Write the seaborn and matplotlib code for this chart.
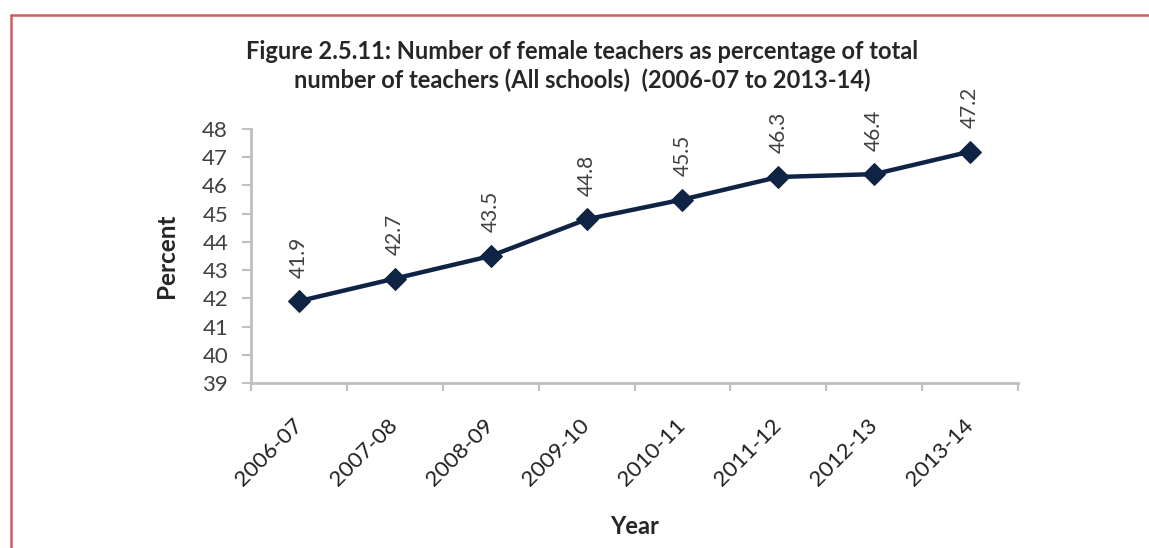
import matplotlib
matplotlib.use("Agg")
import matplotlib.pyplot as plt
from matplotlib.lines import Line2D
from matplotlib.ticker import FixedLocator, NullFormatter
import seaborn as sns
import pandas as pd

years = ["2006-07", "2007-08", "2008-09", "2009-10",
         "2010-11", "2011-12", "2012-13", "2013-14"]
percent = [41.9, 42.7, 43.5, 44.8, 45.5, 46.3, 46.4, 47.2]
y_ticks = list(range(39, 49))

title_lines = ["Figure 2.5.11: Number of female teachers as percentage of total",
               "number of teachers (All schools)  (2006-07 to 2013-14)"]

sns.set_theme(style="white")
plt.rcParams["font.family"] = ["Lato", "DejaVu Sans"]

df = pd.DataFrame({"Year": years, "Percent": percent})

W, H = 1149, 548
fig = plt.figure(figsize=(W / 100, H / 100), dpi=100)
fig.patch.set_facecolor("white")
ax_l, ax_r, ax_t, ax_b = 251, 1018, 129, 383
ax = fig.add_axes([ax_l / W, 1 - ax_b / H, (ax_r - ax_l) / W, (ax_b - ax_t) / H])

navy = "#0f2444"
sns.lineplot(data=df, x="Year", y="Percent", ax=ax, color=navy, linewidth=3.2,
             marker="D", markersize=11, markeredgecolor=navy, markerfacecolor=navy,
             sort=False)

# value labels, rotated, just above each point
for i, v in enumerate(percent):
    ax.annotate(f"{v:.1f}", xy=(i, v), xytext=(0, 17), textcoords="offset points",
                rotation=90, ha="center", va="bottom", fontsize=15, color="#404040")

ax.set_xlim(-0.5, len(years) - 0.5)
ax.set_ylim(y_ticks[0], y_ticks[-1])
ax.set_yticks(y_ticks)
ax.set_yticklabels([str(t) for t in y_ticks], fontsize=16, color="#404040")
ax.set_xticks(range(len(years)))
ax.set_xticklabels(years, rotation=45, ha="right", va="center", rotation_mode="anchor",
                   fontsize=16, color="#1f1f1f")
ax.xaxis.set_minor_locator(FixedLocator([i - 0.5 for i in range(len(years) + 1)]))
ax.xaxis.set_minor_formatter(NullFormatter())

spine_col = "#bfbfbf"
for side in ["top", "right"]:
    ax.spines[side].set_visible(False)
for side in ["left", "bottom"]:
    ax.spines[side].set_color(spine_col)
    ax.spines[side].set_linewidth(2)

ax.tick_params(axis="y", which="major", direction="out", length=6.5, width=1.5,
               color=spine_col, left=True, pad=10)
ax.tick_params(axis="x", which="major", length=0, pad=28)
ax.tick_params(axis="x", which="minor", direction="out", length=6, width=1.5,
               color=spine_col, bottom=True)

ax.set_xlabel("Year", fontsize=17, fontweight="bold", color="#262626")
ax.set_ylabel("Percent", fontsize=17.5, fontweight="bold", color="#262626")
ax.xaxis.label.set_va("center")
ax.xaxis.set_label_coords(0.5, -(527 - ax_b) / (ax_b - ax_t))
ax.yaxis.set_label_coords(-(ax_l - 178) / (ax_r - ax_l), 0.5)

for k, line in enumerate(title_lines):
    fig.text(582 / W, 1 - (59 + 29 * k) / H, line, ha="center", va="baseline",
             fontsize=17, fontweight="bold", color="#262626")

red = "#cd5c5f"
fig.add_artist(Line2D([11 / W, 1], [1 - 15 / H, 1 - 15 / H],
                      transform=fig.transFigure, color=red, linewidth=1.8))
fig.add_artist(Line2D([11 / W, 11 / W], [0, 1 - 15 / H],
                      transform=fig.transFigure, color=red, linewidth=1.8))

fig.savefig("out.png", dpi=100, facecolor="white")
